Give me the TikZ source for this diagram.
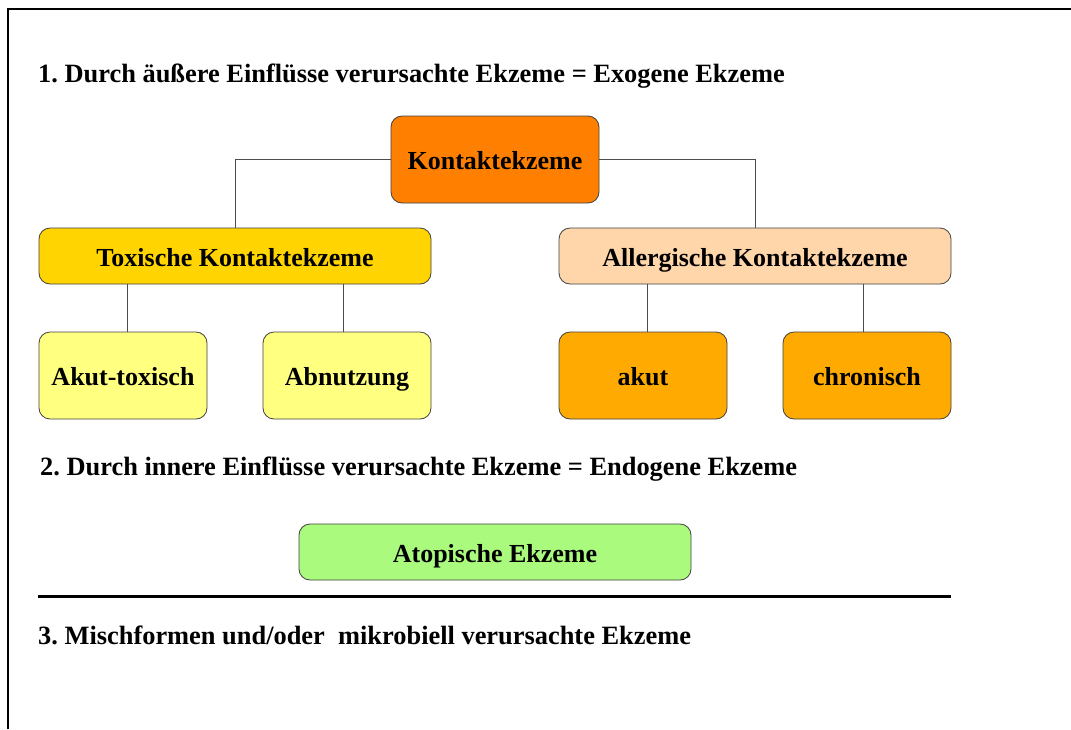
\documentclass[tikz,border=0pt]{standalone}
\usepackage{fontspec}
\setmainfont{Liberation Serif}
\frenchspacing
\definecolor{kontaktorange}{RGB}{255,128,0}
\definecolor{toxgelb}{RGB}{255,212,0}
\definecolor{hellgelb}{RGB}{255,255,128}
\definecolor{pfirsich}{RGB}{255,214,170}
\definecolor{allorange}{RGB}{255,170,0}
\definecolor{hellgruen}{RGB}{170,250,125}
\begin{document}
\begin{tikzpicture}[x=1pt,y=-1pt,
    every node/.style={font=\fontsize{26}{30}\selectfont\bfseries},
    box/.style={draw=black!75, line width=0.8pt, rounded corners=11pt, inner sep=0pt,
      text height=26pt, text depth=6pt, align=center},
    wide/.style={box, minimum width=392pt, minimum height=56pt},
    leaf/.style={box, minimum width=168pt, minimum height=87pt},
    conn/.style={draw=black!70, line width=0.8pt},
    title/.style={anchor=base west, inner sep=0pt, font=\fontsize{26.4}{30}\selectfont\bfseries}]
  \useasboundingbox (0,0) rectangle (1071,729);
  \draw[line width=2.5pt] (8,729) -- (8,9) -- (1071,9);
  \node[title] (exogen) at (38,82.5) {1. Durch äußere Einflüsse verursachte Ekzeme = Exogene Ekzeme};
  \node[box, fill=kontaktorange, minimum width=208pt, minimum height=87pt] (kontakt) at (495,159.5) {Kontaktekzeme};
  \node[wide, fill=toxgelb] (toxisch) at (235,256) {Toxische Kontaktekzeme};
  \node[wide, fill=pfirsich] (allergisch) at (755,256) {Allergische Kontaktekzeme};
  \node[leaf, fill=hellgelb] (akuttox) at (123,375.5) {Akut-toxisch};
  \node[leaf, fill=hellgelb] (abnutzung) at (347,375.5) {Abnutzung};
  \node[leaf, fill=allorange] (akut) at (643,375.5) {akut};
  \node[leaf, fill=allorange] (chronisch) at (867,375.5) {chronisch};
  \node[title] (endogen) at (40,475) {2. Durch innere Einflüsse verursachte Ekzeme = Endogene Ekzeme};
  \node[wide, fill=hellgruen] (atopisch) at (495,552) {Atopische Ekzeme};
  \draw[line width=3pt] (38,596) -- (951,596);
  \node[title] (misch) at (38,644) {3. Mischformen und/oder\ \ mikrobiell verursachte Ekzeme};
  % Verbindungen
  \draw[conn] (kontakt.west) -| (toxisch.north);
  \draw[conn] (kontakt.east) -| (allergisch.north);
  \draw[conn] ([xshift=4pt]akuttox.north) -- ([xshift=4pt]akuttox.north |- toxisch.south);
  \draw[conn] ([xshift=-4pt]abnutzung.north) -- ([xshift=-4pt]abnutzung.north |- toxisch.south);
  \draw[conn] ([xshift=4pt]akut.north) -- ([xshift=4pt]akut.north |- allergisch.south);
  \draw[conn] ([xshift=-4pt]chronisch.north) -- ([xshift=-4pt]chronisch.north |- allergisch.south);
\end{tikzpicture}
\end{document}
